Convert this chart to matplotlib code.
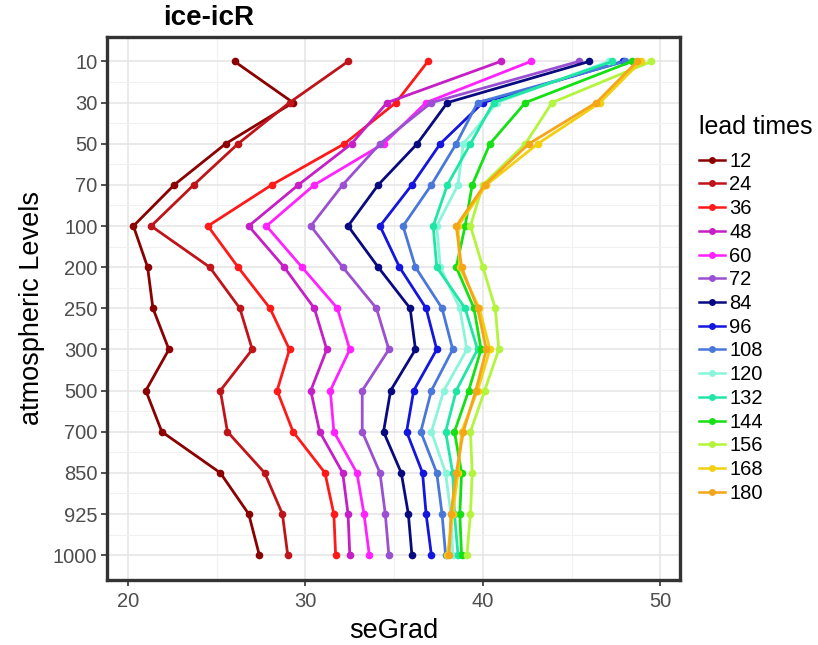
import matplotlib

matplotlib.use("Agg")
import matplotlib.pyplot as plt
from matplotlib.ticker import FixedLocator

plt.rcParams["font.family"] = ["Liberation Sans", "DejaVu Sans"]

LEVELS = ["10", "30", "50", "70", "100", "200", "250", "300",
          "500", "700", "850", "925", "1000"]
LEAD_TIMES = ["12", "24", "36", "48", "60", "72", "84", "96",
              "108", "120", "132", "144", "156", "168", "180"]

# seGrad per level (top -> bottom), one list per lead time
SEGRAD_12 = [26.0, 29.3, 25.5, 22.6, 20.3, 21.1, 21.4, 22.3, 21.0, 21.9, 25.2, 26.8, 27.4]
SEGRAD_24 = [32.4, 29.1, 26.2, 23.7, 21.3, 24.6, 26.3, 27.0, 25.2, 25.6, 27.7, 28.7, 29.0]
SEGRAD_36 = [36.9, 35.1, 32.2, 28.1, 24.5, 26.2, 28.0, 29.1, 28.4, 29.3, 31.1, 31.6, 31.7]
SEGRAD_48 = [41.0, 34.6, 32.6, 29.6, 26.8, 28.8, 30.5, 31.2, 30.3, 30.8, 32.1, 32.4, 32.5]
SEGRAD_60 = [42.7, 36.8, 34.4, 30.5, 27.8, 29.8, 31.8, 32.5, 31.4, 31.6, 32.9, 33.3, 33.6]
SEGRAD_72 = [45.4, 37.1, 34.2, 32.1, 30.3, 32.1, 34.0, 34.7, 33.2, 33.2, 34.2, 34.5, 34.7]
SEGRAD_84 = [46.0, 38.0, 36.3, 34.1, 32.4, 34.1, 35.9, 36.2, 34.8, 34.4, 35.4, 35.8, 36.0]
SEGRAD_96 = [47.9, 40.0, 37.6, 36.0, 34.2, 35.3, 36.8, 37.4, 36.1, 35.7, 36.6, 36.8, 37.1]
SEGRAD_108 = [48.0, 39.7, 38.5, 37.1, 35.5, 36.2, 37.7, 38.3, 37.1, 36.5, 37.4, 37.7, 37.9]
SEGRAD_120 = [47.1, 40.8, 38.9, 38.6, 37.4, 37.6, 38.7, 39.1, 37.8, 37.1, 37.9, 38.2, 38.3]
SEGRAD_132 = [47.3, 40.6, 39.3, 38.0, 37.2, 37.4, 39.0, 39.7, 38.5, 37.9, 38.3, 38.4, 38.6]
SEGRAD_144 = [48.4, 42.4, 40.4, 39.4, 39.0, 38.5, 39.5, 39.9, 39.2, 38.4, 38.8, 38.7, 38.8]
SEGRAD_156 = [49.5, 43.9, 42.4, 40.0, 39.3, 40.0, 40.7, 40.9, 40.1, 39.3, 39.4, 39.3, 39.1]
SEGRAD_168 = [48.9, 46.6, 43.1, 40.2, 38.6, 38.7, 39.8, 40.4, 39.7, 38.8, 38.6, 38.3, 38.0]
SEGRAD_180 = [48.7, 46.4, 42.6, 40.1, 38.5, 38.8, 39.7, 40.2, 39.6, 38.9, 38.5, 38.2, 38.1]

SERIES = [SEGRAD_12, SEGRAD_24, SEGRAD_36, SEGRAD_48, SEGRAD_60, SEGRAD_72,
          SEGRAD_84, SEGRAD_96, SEGRAD_108, SEGRAD_120, SEGRAD_132,
          SEGRAD_144, SEGRAD_156, SEGRAD_168, SEGRAD_180]

COLORS = ["#8B0000", "#C0141B", "#FF1A1A", "#C51FC5", "#FF22FF",
          "#9A50D0", "#0A0A80", "#1515E0", "#4A78DA", "#8AF5DA",
          "#1EE6A5", "#14E014", "#B2F53C", "#F2D010", "#F5A51A"]

X_TICKS = [20, 30, 40, 50]
X_MINOR = [25, 35, 45]

PANEL_EDGE = "#333333"
TICK_TEXT = "#4D4D4D"


def main():
    fig = plt.figure(figsize=(8.18, 6.45), dpi=100)
    ax = fig.add_axes([0.131, 0.101, 0.700, 0.842])

    ypos = list(range(len(LEVELS)))
    handles = []
    for vals, color, lab in zip(SERIES, COLORS, LEAD_TIMES):
        (ln,) = ax.plot(vals, ypos, color=color, lw=2.0, marker="o",
                        ms=5.5, mew=0, label=lab, solid_joinstyle="round")
        handles.append(ln)

    ax.set_xlim(18.82, 51.1)
    ax.set_ylim(len(LEVELS) - 1 + 0.6, -0.6)

    ax.set_xticks(X_TICKS)
    ax.xaxis.set_minor_locator(FixedLocator(X_MINOR))
    ax.set_yticks(ypos)
    ax.set_yticklabels(LEVELS)
    ax.yaxis.set_minor_locator(FixedLocator([p + 0.5 for p in ypos[:-1]]))

    ax.grid(which="major", color="#E4E4E4", lw=1.1)
    ax.grid(which="minor", color="#F1F1F1", lw=0.8)
    ax.set_axisbelow(True)

    ax.tick_params(which="major", length=4, width=1.2, color=PANEL_EDGE,
                   labelsize=14.5, labelcolor=TICK_TEXT, pad=3)
    ax.tick_params(axis="x", which="major", pad=5)
    ax.tick_params(which="minor", length=0)
    for sp in ax.spines.values():
        sp.set_color(PANEL_EDGE)
        sp.set_linewidth(2.4)

    ax.set_xlabel("seGrad", fontsize=19.5, labelpad=5)
    ax.set_ylabel("atmospheric Levels", fontsize=19.5, labelpad=6)

    fig.text(163 / 818, 1 - 18 / 645, "ice-icR", fontsize=20,
             fontweight="bold", ha="left", va="center")

    leg = fig.legend(handles=handles, title="lead times", loc="upper left",
                     bbox_to_anchor=(0.845, 0.834), frameon=False,
                     fontsize=14.5, title_fontsize=18, handlelength=1.3,
                     handletextpad=0.2, labelspacing=0.235,
                     borderaxespad=0, alignment="left")
    leg._legend_box.sep = 9
    for h in leg.legend_handles:
        h.set_markersize(5)
        h.set_linewidth(1.8)

    fig.savefig("out.png", dpi=100, facecolor="white")
    plt.close(fig)


if __name__ == "__main__":
    main()
